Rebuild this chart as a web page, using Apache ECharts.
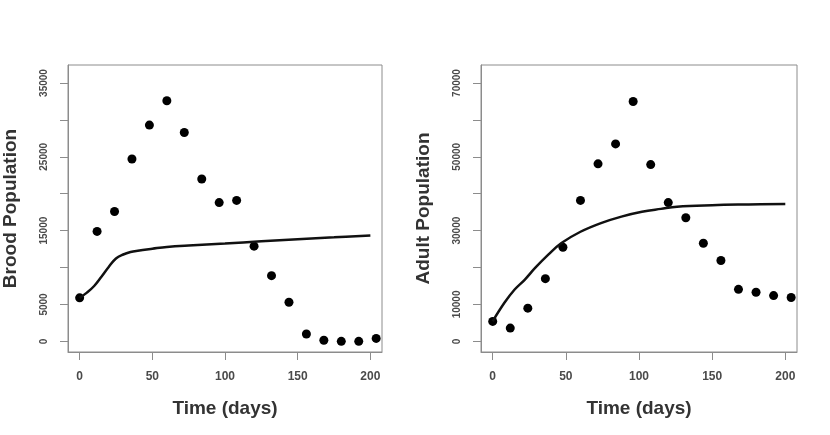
<!DOCTYPE html>
<html>
<head>
<meta charset="utf-8">
<script src="https://cdn.jsdelivr.net/npm/echarts@6/dist/echarts.min.js"></script>
<style>
html,body{margin:0;padding:0;background:#fff;}
#chart{width:830px;height:435px;}
</style>
</head>
<body>
<div id="chart"></div>
<script>
// Observation days
var obsDays = [0,12,24,36,48,60,72,84,96,108,120,132,144,156,168,180,192,204];
// Observed populations
var broodObs = [5900,14900,17600,24700,29300,32600,28300,22000,18800,19100,12900,8900,5300,1000,150,0,0,400];
var adultObs = [5400,3600,9000,17000,25500,38200,48100,53500,65000,47900,37600,33500,26600,21900,14100,13300,12400,11900];
// Model curves
var broodModelT = [0,5,10,15,20,25,30,35,40,50,60,75,100,125,150,175,200];
var broodModelV = [5900,6600,7500,8760,10080,11230,11770,12100,12280,12550,12800,13000,13250,13550,13850,14100,14350];
var adultModelT = [0,8,15,22,29,38,47,60,74,88,102,115,126,150,175,200];
var adultModelV = [5450,10450,14050,16750,19900,23500,26650,29700,32050,33800,35100,35900,36500,36900,37100,37250];
// Tick values
var xTicks = [0,50,100,150,200];
var broodTicks = [0,5000,10000,15000,20000,25000,30000,35000];
var broodLabels = [0,5000,15000,25000,35000];
var adultTicks = [0,10000,20000,30000,40000,50000,60000,70000];
var adultLabels = [0,10000,30000,50000,70000];

function zip(a,b){return a.map(function(v,i){return [v,b[i]];});}

var axisGray = '#8c8c8c';
var labelColor = '#4a4a4a';
var fontFam = '"Liberation Sans", Arial, sans-serif';
function plain(v){return String(v);}

function xAxisDef(idx){
  return {
    type:'value', gridIndex:idx, min:-8, max:208,
    splitLine:{show:false},
    axisLine:{show:true, onZero:false, lineStyle:{color:axisGray,width:1}},
    axisTick:{show:true, inside:false, length:8, lineStyle:{color:axisGray}, customValues:xTicks},
    axisLabel:{customValues:xTicks, formatter:plain, margin:19, color:labelColor, fontSize:12, fontWeight:'bold', fontFamily:fontFam},
    name:'Time (days)', nameLocation:'middle', nameGap:47,
    nameTextStyle:{fontSize:19, fontWeight:'bold', color:'#333', fontFamily:fontFam}
  };
}
function yAxisDef(idx, min, max, ticks, labels, name){
  return {
    type:'value', gridIndex:idx, min:min, max:max,
    splitLine:{show:false},
    axisLine:{show:true, onZero:false, lineStyle:{color:axisGray,width:1}},
    axisTick:{show:true, inside:false, length:8, lineStyle:{color:axisGray}, customValues:ticks},
    axisLabel:{customValues:labels, formatter:plain, rotate:90, margin:19, color:labelColor, fontSize:10, fontWeight:'bold', fontFamily:fontFam},
    name:name, nameLocation:'middle', nameGap:48,
    nameTextStyle:{fontSize:19, fontWeight:'bold', color:'#333', fontFamily:fontFam}
  };
}

var chart = echarts.init(document.getElementById('chart'), null, {renderer:'canvas'});
chart.setOption({
  backgroundColor:'#fff',
  animation:false,
  grid:[
    {left:66, top:65, width:316, height:287, show:true, borderColor:axisGray, borderWidth:1, containLabel:false},
    {left:481, top:65, width:316, height:287, show:true, borderColor:axisGray, borderWidth:1, containLabel:false}
  ],
  xAxis:[xAxisDef(0), xAxisDef(1)],
  yAxis:[
    yAxisDef(0, -1440, 37440, broodTicks, broodLabels, 'Brood Population'),
    yAxisDef(1, -2880, 74880, adultTicks, adultLabels, 'Adult Population')
  ],
  series:[
    {type:'line', xAxisIndex:0, yAxisIndex:0, data:zip(broodModelT, broodModelV), smooth:0.4, showSymbol:false, lineStyle:{color:'#111', width:2.5}},
    {type:'scatter', xAxisIndex:0, yAxisIndex:0, data:zip(obsDays, broodObs), symbolSize:9, itemStyle:{color:'#000', opacity:1}},
    {type:'line', xAxisIndex:1, yAxisIndex:1, data:zip(adultModelT, adultModelV), smooth:0.4, showSymbol:false, lineStyle:{color:'#111', width:2.5}},
    {type:'scatter', xAxisIndex:1, yAxisIndex:1, data:zip(obsDays, adultObs), symbolSize:9, itemStyle:{color:'#000', opacity:1}}
  ]
});
</script>
</body>
</html>
